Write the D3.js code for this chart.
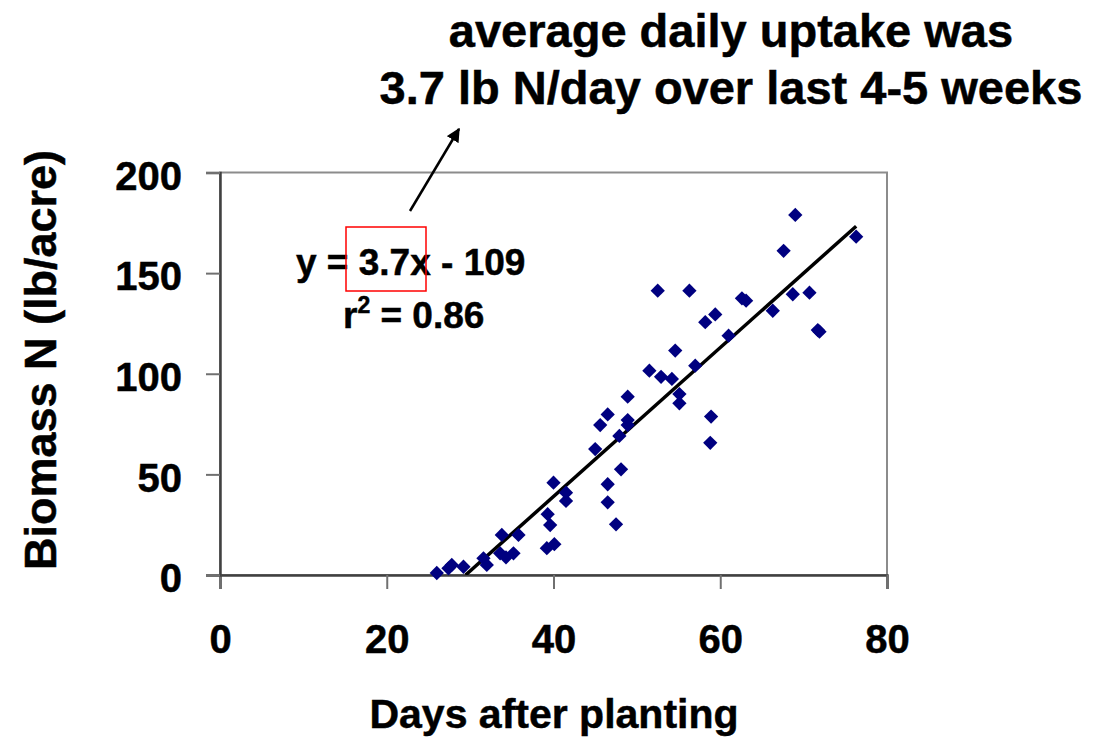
<!DOCTYPE html>
<html><head><meta charset="utf-8">
<script src="https://cdn.jsdelivr.net/npm/d3@7"></script>
<style>body{margin:0;background:#fff}svg{display:block}text{font-family:"Liberation Sans",Arial,sans-serif;font-weight:bold;fill:#000;stroke:#000;stroke-width:0.5px}</style>
</head><body>
<script>
// Data: days after planting vs biomass N (lb/acre)
const days = [26.0,27.4,27.8,29.2,31.6,32.0,33.8,35.8,33.6,34.3,35.2,40.0,39.3,39.6,41.5,41.5,39.2,40.1,45.0,45.6,46.5,46.5,46.5,47.5,47.9,48.1,48.9,48.9,48.9,51.5,52.5,52.9,54.2,54.6,55.1,55.1,56.3,57.0,58.2,58.9,58.8,59.4,61.0,62.6,63.1,66.3,67.6,69.0,68.7,70.7,71.7,71.9,76.3];
const biomassN = [1,3.3,5.0,4.1,8.3,5.0,19.9,19.9,10.8,8.8,10.8,45.9,30.2,24.8,40.9,36.8,13.3,15.3,62.6,74.5,79.8,45.1,36.1,25.2,69.1,52.5,88.6,77.0,74.5,101.5,141.3,98.5,97.4,111.5,89.9,85.3,141.3,104.0,125.6,78.7,65.7,129.5,118.9,137.5,136.3,131.3,161.1,178.9,139.5,140.3,121.7,120.9,168.1];
const xTicks = [0,20,40,60,80];
const yTicks = [0,50,100,150,200];
const slope = 3.7, intercept = -109;
const titleLines = ["average daily uptake was","3.7 lb N/day over last 4-5 weeks"];
const xLabel = "Days after planting";
const yLabel = "Biomass N (lb/acre)";

const W = 1113, H = 741;
const m = {left:220, right:W-887, top:172.5, bottom:H-575};
const svg = d3.select("body").append("svg").attr("width",W).attr("height",H);
const x = d3.scaleLinear().domain([0,80]).range([m.left, W-m.right]);
const y = d3.scaleLinear().domain([0,200]).range([H-m.bottom, m.top]);

// plot border (top/right)
svg.append("rect").attr("x",x(0)).attr("y",y(200)).attr("width",x(80)-x(0)).attr("height",y(0)-y(200))
  .attr("fill","none").attr("stroke","#8c8c8c").attr("stroke-width",2);

// clip
svg.append("clipPath").attr("id","clip").append("rect")
  .attr("x",x(0)).attr("y",y(200)).attr("width",x(80)-x(0)).attr("height",y(0)-y(200));

// axes
const xAxis = svg.append("g").attr("transform",`translate(0,${y(0)})`)
  .call(d3.axisBottom(x).tickValues(xTicks).tickSize(14).tickPadding(36).tickFormat(d3.format("d")));
const yAxis = svg.append("g").attr("transform",`translate(${x(0)},0)`)
  .call(d3.axisLeft(y).tickValues(yTicks).tickSize(14).tickPadding(24).tickFormat(d3.format("d")));
[xAxis,yAxis].forEach(g=>{
  g.select(".domain").attr("stroke","#404040").attr("stroke-width",2.5);
  g.selectAll(".tick line").attr("stroke","#707070").attr("stroke-width",2);
  g.selectAll(".tick text").attr("font-size",40).attr("font-family",null).attr("fill","#000");
});
xAxis.selectAll(".tick text").attr("dy","0.71em");
yAxis.selectAll(".tick text").attr("dy","0.42em");

// trendline
const x0 = -intercept/slope, x1 = d3.max(days);
svg.append("line").attr("clip-path","url(#clip)")
  .attr("x1",x(x0)).attr("y1",y(slope*x0+intercept))
  .attr("x2",x(x1)).attr("y2",y(slope*x1+intercept))
  .attr("stroke","#000").attr("stroke-width",3.5);

// points (diamonds)
const sym = d3.symbol().type(d3.symbolDiamond2).size(130);
svg.append("g").selectAll("path").data(days.map((d,i)=>[d,biomassN[i]])).join("path")
  .attr("d",sym).attr("transform",d=>`translate(${x(d[0])},${y(d[1])})`)
  .attr("fill","#000080");

// equation
svg.append("text").attr("x",296).attr("y",275).attr("font-size",37).text(`y = ${slope}x - ${-intercept}`);
const r2 = svg.append("text").attr("x",343).attr("y",328).attr("font-size",37);
r2.append("tspan").text("r");
r2.append("tspan").attr("font-size",23).attr("dy",-15).text("2");
r2.append("tspan").attr("dy",15).text(" = 0.86");

// red box
svg.append("rect").attr("x",346).attr("y",227).attr("width",80).attr("height",64)
  .attr("fill","none").attr("stroke","#ff0000").attr("stroke-width",1.5);

// arrow
svg.append("defs").append("marker").attr("id","ah").attr("viewBox","0 0 10 10").attr("refX",9).attr("refY",5)
  .attr("markerWidth",5.5).attr("markerHeight",5.5).attr("orient","auto")
  .append("path").attr("d","M0,0L10,5L0,10z").attr("fill","#000");
svg.append("line").attr("x1",410).attr("y1",211).attr("x2",459).attr("y2",129)
  .attr("stroke","#000").attr("stroke-width",2.5).attr("marker-end","url(#ah)");

// title
svg.append("g").selectAll("text").data(titleLines).join("text")
  .attr("x",731).attr("y",(d,i)=>47+i*57).attr("text-anchor","middle").attr("font-size",47).text(d=>d);

// axis titles
svg.append("text").attr("x",554).attr("y",728).attr("text-anchor","middle").attr("font-size",41).text(xLabel);
svg.append("text").attr("transform","translate(56,360) rotate(-90)").attr("text-anchor","middle").attr("font-size",45).text(yLabel);
</script>
</body></html>
